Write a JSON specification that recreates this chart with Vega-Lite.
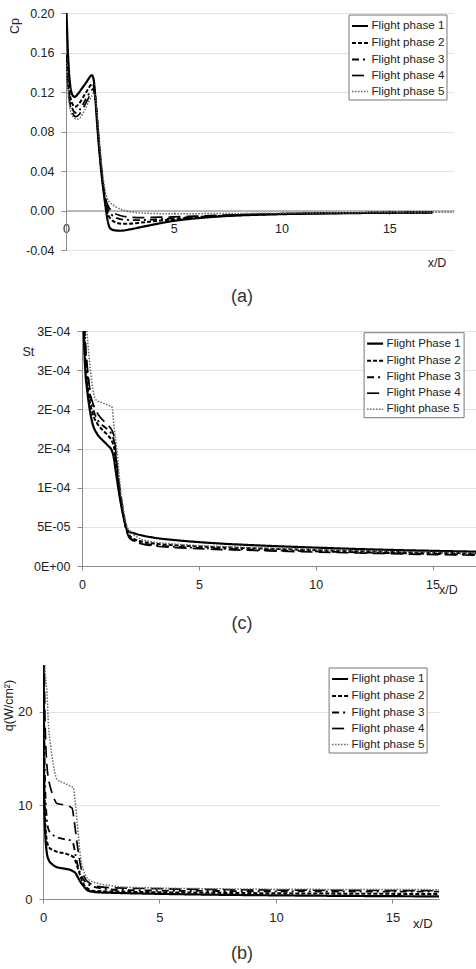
{
  "$schema": "https://vega.github.io/schema/vega-lite/v6.json",
  "background": "white",
  "padding": {"left": 0, "right": 0, "top": 7, "bottom": 0},
  "config": {
    "font": "Liberation Sans",
    "view": {"stroke": null},
    "axis": {
      "labelFont": "Liberation Sans", "labelFontSize": 12.5, "labelColor": "#222",
      "titleFont": "Liberation Sans", "titleFontSize": 12.5, "titleFontWeight": "normal", "titleColor": "#222",
      "domainColor": "#8c8c8c", "tickColor": "#8c8c8c", "tickSize": 5, "gridColor": "#e2e2e2",
      "labelPadding": 7, "labelOverlap": false, "labelFlush": false
    },
    "axisX": {"grid": false, "labelPadding": 8, "tickSize": 4},
    "axisY": {"grid": true},
    "legend": {
      "orient": "none", "title": null, "strokeColor": "#777", "fillColor": "white", "padding": 2,
      "symbolType": "stroke", "symbolSize": 256, "rowPadding": 1, "labelFont": "Liberation Sans",
      "labelFontSize": 11.6, "labelColor": "#222", "labelOffset": 2
    },
    "title": {"font": "Liberation Sans", "fontSize": 18, "fontWeight": "normal", "color": "#333"}
  },
  "spacing": 0,
  "resolve": {
    "scale": {"color": "independent", "strokeDash": "independent", "strokeWidth": "independent"},
    "legend": {"color": "independent", "strokeDash": "independent", "strokeWidth": "independent"}
  },
  "vconcat": [
    {
      "hconcat": [
        {"width": 66, "height": 312, "data": {"values": []}, "mark": "point"},
        {
          "width": 388, "height": 237,
          "title": {"text": "(a)", "orient": "bottom", "frame": "group", "anchor": "middle", "offset": 19, "dx": -18},
          "data": {"values": [
            {"s":"Flight phase 1","x":0,"v":0.215},{"s":"Flight phase 1","x":0.04,"v":0.19},{"s":"Flight phase 1","x":0.08,"v":0.165},{"s":"Flight phase 1","x":0.14,"v":0.14},{"s":"Flight phase 1","x":0.2,"v":0.126},{"s":"Flight phase 1","x":0.3,"v":0.117},{"s":"Flight phase 1","x":0.4,"v":0.115},{"s":"Flight phase 1","x":0.55,"v":0.118},{"s":"Flight phase 1","x":0.75,"v":0.124},{"s":"Flight phase 1","x":0.95,"v":0.13},{"s":"Flight phase 1","x":1.1,"v":0.135},{"s":"Flight phase 1","x":1.2,"v":0.137},{"s":"Flight phase 1","x":1.28,"v":0.133},{"s":"Flight phase 1","x":1.35,"v":0.118},{"s":"Flight phase 1","x":1.42,"v":0.095},{"s":"Flight phase 1","x":1.52,"v":0.067},{"s":"Flight phase 1","x":1.63,"v":0.041},{"s":"Flight phase 1","x":1.75,"v":0.018},{"s":"Flight phase 1","x":1.86,"v":0.0},{"s":"Flight phase 1","x":1.95,"v":-0.012},{"s":"Flight phase 1","x":2.05,"v":-0.018},{"s":"Flight phase 1","x":2.2,"v":-0.0198},{"s":"Flight phase 1","x":2.5,"v":-0.0205},{"s":"Flight phase 1","x":3,"v":-0.019},{"s":"Flight phase 1","x":3.5,"v":-0.0167},{"s":"Flight phase 1","x":4,"v":-0.0145},{"s":"Flight phase 1","x":5,"v":-0.0105},{"s":"Flight phase 1","x":6,"v":-0.008},{"s":"Flight phase 1","x":7,"v":-0.0062},{"s":"Flight phase 1","x":8,"v":-0.005},{"s":"Flight phase 1","x":9,"v":-0.0043},{"s":"Flight phase 1","x":10,"v":-0.0037},{"s":"Flight phase 1","x":12,"v":-0.003},{"s":"Flight phase 1","x":14,"v":-0.0025},{"s":"Flight phase 1","x":16,"v":-0.0022},{"s":"Flight phase 1","x":17,"v":-0.002},
            {"s":"Flight phase 2","x":0,"v":0.158},{"s":"Flight phase 2","x":0.05,"v":0.145},{"s":"Flight phase 2","x":0.1,"v":0.132},{"s":"Flight phase 2","x":0.2,"v":0.115},{"s":"Flight phase 2","x":0.3,"v":0.108},{"s":"Flight phase 2","x":0.42,"v":0.105},{"s":"Flight phase 2","x":0.6,"v":0.108},{"s":"Flight phase 2","x":0.8,"v":0.115},{"s":"Flight phase 2","x":1.0,"v":0.122},{"s":"Flight phase 2","x":1.15,"v":0.127},{"s":"Flight phase 2","x":1.25,"v":0.128},{"s":"Flight phase 2","x":1.32,"v":0.122},{"s":"Flight phase 2","x":1.4,"v":0.105},{"s":"Flight phase 2","x":1.5,"v":0.075},{"s":"Flight phase 2","x":1.62,"v":0.045},{"s":"Flight phase 2","x":1.75,"v":0.02},{"s":"Flight phase 2","x":1.85,"v":0.005},{"s":"Flight phase 2","x":1.95,"v":-0.004},{"s":"Flight phase 2","x":2.1,"v":-0.009},{"s":"Flight phase 2","x":2.3,"v":-0.012},{"s":"Flight phase 2","x":2.6,"v":-0.0135},{"s":"Flight phase 2","x":3,"v":-0.0133},{"s":"Flight phase 2","x":3.5,"v":-0.0122},{"s":"Flight phase 2","x":4,"v":-0.011},{"s":"Flight phase 2","x":5,"v":-0.009},{"s":"Flight phase 2","x":6,"v":-0.0072},{"s":"Flight phase 2","x":7,"v":-0.0058},{"s":"Flight phase 2","x":8,"v":-0.0048},{"s":"Flight phase 2","x":10,"v":-0.0035},{"s":"Flight phase 2","x":12,"v":-0.0029},{"s":"Flight phase 2","x":14,"v":-0.0024},{"s":"Flight phase 2","x":17,"v":-0.002},
            {"s":"Flight phase 3","x":0,"v":0.155},{"s":"Flight phase 3","x":0.05,"v":0.14},{"s":"Flight phase 3","x":0.1,"v":0.127},{"s":"Flight phase 3","x":0.2,"v":0.11},{"s":"Flight phase 3","x":0.3,"v":0.103},{"s":"Flight phase 3","x":0.45,"v":0.099},{"s":"Flight phase 3","x":0.6,"v":0.101},{"s":"Flight phase 3","x":0.8,"v":0.108},{"s":"Flight phase 3","x":1.0,"v":0.116},{"s":"Flight phase 3","x":1.15,"v":0.121},{"s":"Flight phase 3","x":1.27,"v":0.123},{"s":"Flight phase 3","x":1.34,"v":0.117},{"s":"Flight phase 3","x":1.42,"v":0.1},{"s":"Flight phase 3","x":1.52,"v":0.072},{"s":"Flight phase 3","x":1.64,"v":0.043},{"s":"Flight phase 3","x":1.76,"v":0.02},{"s":"Flight phase 3","x":1.87,"v":0.007},{"s":"Flight phase 3","x":1.97,"v":0.0},{"s":"Flight phase 3","x":2.1,"v":-0.004},{"s":"Flight phase 3","x":2.4,"v":-0.008},{"s":"Flight phase 3","x":2.8,"v":-0.0095},{"s":"Flight phase 3","x":3.2,"v":-0.0098},{"s":"Flight phase 3","x":4,"v":-0.0092},{"s":"Flight phase 3","x":5,"v":-0.008},{"s":"Flight phase 3","x":6,"v":-0.0066},{"s":"Flight phase 3","x":7,"v":-0.0055},{"s":"Flight phase 3","x":8,"v":-0.0046},{"s":"Flight phase 3","x":10,"v":-0.0034},{"s":"Flight phase 3","x":12,"v":-0.0028},{"s":"Flight phase 3","x":14,"v":-0.0024},{"s":"Flight phase 3","x":17,"v":-0.002},
            {"s":"Flight phase 4","x":0,"v":0.153},{"s":"Flight phase 4","x":0.05,"v":0.137},{"s":"Flight phase 4","x":0.1,"v":0.123},{"s":"Flight phase 4","x":0.2,"v":0.106},{"s":"Flight phase 4","x":0.3,"v":0.099},{"s":"Flight phase 4","x":0.45,"v":0.095},{"s":"Flight phase 4","x":0.6,"v":0.097},{"s":"Flight phase 4","x":0.8,"v":0.104},{"s":"Flight phase 4","x":1.0,"v":0.112},{"s":"Flight phase 4","x":1.15,"v":0.118},{"s":"Flight phase 4","x":1.28,"v":0.12},{"s":"Flight phase 4","x":1.35,"v":0.115},{"s":"Flight phase 4","x":1.43,"v":0.098},{"s":"Flight phase 4","x":1.53,"v":0.07},{"s":"Flight phase 4","x":1.65,"v":0.042},{"s":"Flight phase 4","x":1.77,"v":0.02},{"s":"Flight phase 4","x":1.88,"v":0.009},{"s":"Flight phase 4","x":2.0,"v":0.003},{"s":"Flight phase 4","x":2.2,"v":-0.002},{"s":"Flight phase 4","x":2.5,"v":-0.005},{"s":"Flight phase 4","x":3,"v":-0.0068},{"s":"Flight phase 4","x":3.5,"v":-0.0072},{"s":"Flight phase 4","x":4,"v":-0.007},{"s":"Flight phase 4","x":5,"v":-0.0065},{"s":"Flight phase 4","x":6,"v":-0.0057},{"s":"Flight phase 4","x":7,"v":-0.0049},{"s":"Flight phase 4","x":8,"v":-0.0042},{"s":"Flight phase 4","x":10,"v":-0.0032},{"s":"Flight phase 4","x":12,"v":-0.0027},{"s":"Flight phase 4","x":14,"v":-0.0023},{"s":"Flight phase 4","x":17,"v":-0.002},
            {"s":"Flight phase 5","x":0,"v":0.15},{"s":"Flight phase 5","x":0.05,"v":0.133},{"s":"Flight phase 5","x":0.1,"v":0.118},{"s":"Flight phase 5","x":0.2,"v":0.102},{"s":"Flight phase 5","x":0.3,"v":0.096},{"s":"Flight phase 5","x":0.5,"v":0.0925},{"s":"Flight phase 5","x":0.65,"v":0.094},{"s":"Flight phase 5","x":0.85,"v":0.101},{"s":"Flight phase 5","x":1.05,"v":0.11},{"s":"Flight phase 5","x":1.2,"v":0.116},{"s":"Flight phase 5","x":1.3,"v":0.119},{"s":"Flight phase 5","x":1.37,"v":0.114},{"s":"Flight phase 5","x":1.45,"v":0.097},{"s":"Flight phase 5","x":1.55,"v":0.07},{"s":"Flight phase 5","x":1.67,"v":0.043},{"s":"Flight phase 5","x":1.8,"v":0.022},{"s":"Flight phase 5","x":1.92,"v":0.012},{"s":"Flight phase 5","x":2.05,"v":0.008},{"s":"Flight phase 5","x":2.3,"v":0.004},{"s":"Flight phase 5","x":2.7,"v":0.0},{"s":"Flight phase 5","x":3.2,"v":-0.002},{"s":"Flight phase 5","x":4,"v":-0.003},{"s":"Flight phase 5","x":5,"v":-0.0033},{"s":"Flight phase 5","x":6,"v":-0.0032},{"s":"Flight phase 5","x":8,"v":-0.003},{"s":"Flight phase 5","x":10,"v":-0.0027},{"s":"Flight phase 5","x":12,"v":-0.0024},{"s":"Flight phase 5","x":14,"v":-0.0021},{"s":"Flight phase 5","x":16,"v":-0.0019},{"s":"Flight phase 5","x":18,"v":-0.0018}
          ]},
          "mark": {"type": "line", "clip": true, "interpolate": "monotone"},
          "encoding": {
            "x": {"field": "x", "type": "quantitative", "scale": {"domain": [0, 18], "nice": false, "zero": false},
                  "axis": {"values": [0, 5, 10, 15], "title": "x/D", "offset": -39.5, "titleX": 370.5, "titleY": 52, "titleAlign": "center", "titleBaseline": "middle", "domainColor": "#a6a6a6", "domainWidth": 1.5}},
            "y": {"field": "v", "type": "quantitative", "scale": {"domain": [-0.04, 0.2], "nice": false, "zero": false},
                  "axis": {"values": [-0.04, 0, 0.04, 0.08, 0.12, 0.16, 0.2], "labelExpr": "(datum.value < 0 ? '-' : '') + format(abs(datum.value), '.2f')", "title": "Cp", "titleX": -51.5, "titleY": 12.5, "titleAngle": 270, "titleAlign": "center", "titleBaseline": "middle"}},
            "color": {"field": "s", "type": "ordinal", "scale": {"domain": ["Flight phase 1","Flight phase 2","Flight phase 3","Flight phase 4","Flight phase 5"], "range": ["#000000","#000000","#000000","#000000","#666666"]}, "legend": {"legendX": 348.5, "legendY": 1.5}},
            "strokeDash": {"field": "s", "type": "ordinal", "scale": {"domain": ["Flight phase 1","Flight phase 2","Flight phase 3","Flight phase 4","Flight phase 5"], "range": [[1,0],[4,2],[7,4,2,4],[12,6],[1.5,1.5]]}, "legend": {"legendX": 348.5, "legendY": 1.5}},
            "strokeWidth": {"field": "s", "type": "ordinal", "scale": {"domain": ["Flight phase 1","Flight phase 2","Flight phase 3","Flight phase 4","Flight phase 5"], "range": [2.2, 1.5, 1.5, 2, 1.2]}, "legend": {"legendX": 348.5, "legendY": 1.5}}
          }
        }
      ],
      "spacing": 0,
      "bounds": "flush"
    },
    {
      "hconcat": [
        {"width": 82, "height": 334, "data": {"values": []}, "mark": "point"},
        {
          "width": 394, "height": 235,
          "title": {"text": "(c)", "orient": "bottom", "frame": "group", "anchor": "middle", "offset": 19, "dx": -37},
          "data": {"values": [
            {"s":"Flight Phase 1","x":0.03,"v":3.6e-4},{"s":"Flight Phase 1","x":0.05,"v":3.3e-4},{"s":"Flight Phase 1","x":0.1,"v":2.75e-4},{"s":"Flight Phase 1","x":0.14,"v":2.5e-4},{"s":"Flight Phase 1","x":0.22,"v":2.25e-4},{"s":"Flight Phase 1","x":0.33,"v":2.0e-4},{"s":"Flight Phase 1","x":0.45,"v":1.82e-4},{"s":"Flight Phase 1","x":0.64,"v":1.69e-4},{"s":"Flight Phase 1","x":0.9,"v":1.6e-4},{"s":"Flight Phase 1","x":1.1,"v":1.54e-4},{"s":"Flight Phase 1","x":1.28,"v":1.47e-4},{"s":"Flight Phase 1","x":1.35,"v":1.4e-4},{"s":"Flight Phase 1","x":1.45,"v":1.2e-4},{"s":"Flight Phase 1","x":1.55,"v":1.0e-4},{"s":"Flight Phase 1","x":1.65,"v":8.2e-5},{"s":"Flight Phase 1","x":1.78,"v":6.2e-5},{"s":"Flight Phase 1","x":1.9,"v":4.8e-5},{"s":"Flight Phase 1","x":2.0,"v":4.4e-5},{"s":"Flight Phase 1","x":2.2,"v":4.2e-5},{"s":"Flight Phase 1","x":2.5,"v":3.95e-5},{"s":"Flight Phase 1","x":3,"v":3.65e-5},{"s":"Flight Phase 1","x":4,"v":3.3e-5},{"s":"Flight Phase 1","x":5,"v":3.05e-5},{"s":"Flight Phase 1","x":6,"v":2.85e-5},{"s":"Flight Phase 1","x":7,"v":2.7e-5},{"s":"Flight Phase 1","x":8,"v":2.57e-5},{"s":"Flight Phase 1","x":10,"v":2.35e-5},{"s":"Flight Phase 1","x":12,"v":2.15e-5},{"s":"Flight Phase 1","x":14,"v":2.0e-5},{"s":"Flight Phase 1","x":16,"v":1.88e-5},{"s":"Flight Phase 1","x":17.5,"v":1.8e-5},
            {"s":"Flight Phase 2","x":0.05,"v":3.5e-4},{"s":"Flight Phase 2","x":0.1,"v":2.9e-4},{"s":"Flight Phase 2","x":0.15,"v":2.6e-4},{"s":"Flight Phase 2","x":0.22,"v":2.35e-4},{"s":"Flight Phase 2","x":0.33,"v":2.1e-4},{"s":"Flight Phase 2","x":0.45,"v":1.95e-4},{"s":"Flight Phase 2","x":0.65,"v":1.82e-4},{"s":"Flight Phase 2","x":0.9,"v":1.73e-4},{"s":"Flight Phase 2","x":1.1,"v":1.67e-4},{"s":"Flight Phase 2","x":1.3,"v":1.58e-4},{"s":"Flight Phase 2","x":1.38,"v":1.5e-4},{"s":"Flight Phase 2","x":1.47,"v":1.25e-4},{"s":"Flight Phase 2","x":1.57,"v":1.0e-4},{"s":"Flight Phase 2","x":1.68,"v":8.0e-5},{"s":"Flight Phase 2","x":1.8,"v":6.0e-5},{"s":"Flight Phase 2","x":1.92,"v":4.5e-5},{"s":"Flight Phase 2","x":2.0,"v":4.0e-5},{"s":"Flight Phase 2","x":2.2,"v":3.5e-5},{"s":"Flight Phase 2","x":2.6,"v":3.1e-5},{"s":"Flight Phase 2","x":3,"v":2.9e-5},{"s":"Flight Phase 2","x":4,"v":2.65e-5},{"s":"Flight Phase 2","x":5,"v":2.5e-5},{"s":"Flight Phase 2","x":6,"v":2.38e-5},{"s":"Flight Phase 2","x":8,"v":2.2e-5},{"s":"Flight Phase 2","x":10,"v":2.03e-5},{"s":"Flight Phase 2","x":12,"v":1.88e-5},{"s":"Flight Phase 2","x":14,"v":1.75e-5},{"s":"Flight Phase 2","x":16,"v":1.65e-5},{"s":"Flight Phase 2","x":17.5,"v":1.6e-5},
            {"s":"Flight Phase 3","x":0.06,"v":3.5e-4},{"s":"Flight Phase 3","x":0.12,"v":2.95e-4},{"s":"Flight Phase 3","x":0.18,"v":2.65e-4},{"s":"Flight Phase 3","x":0.26,"v":2.4e-4},{"s":"Flight Phase 3","x":0.36,"v":2.15e-4},{"s":"Flight Phase 3","x":0.5,"v":1.98e-4},{"s":"Flight Phase 3","x":0.7,"v":1.85e-4},{"s":"Flight Phase 3","x":0.9,"v":1.79e-4},{"s":"Flight Phase 3","x":1.1,"v":1.74e-4},{"s":"Flight Phase 3","x":1.3,"v":1.66e-4},{"s":"Flight Phase 3","x":1.38,"v":1.58e-4},{"s":"Flight Phase 3","x":1.47,"v":1.32e-4},{"s":"Flight Phase 3","x":1.57,"v":1.05e-4},{"s":"Flight Phase 3","x":1.68,"v":8.2e-5},{"s":"Flight Phase 3","x":1.8,"v":6.0e-5},{"s":"Flight Phase 3","x":1.92,"v":4.4e-5},{"s":"Flight Phase 3","x":2.0,"v":3.8e-5},{"s":"Flight Phase 3","x":2.2,"v":3.3e-5},{"s":"Flight Phase 3","x":2.6,"v":2.9e-5},{"s":"Flight Phase 3","x":3,"v":2.7e-5},{"s":"Flight Phase 3","x":4,"v":2.45e-5},{"s":"Flight Phase 3","x":5,"v":2.3e-5},{"s":"Flight Phase 3","x":6,"v":2.2e-5},{"s":"Flight Phase 3","x":8,"v":2.02e-5},{"s":"Flight Phase 3","x":10,"v":1.87e-5},{"s":"Flight Phase 3","x":12,"v":1.73e-5},{"s":"Flight Phase 3","x":14,"v":1.6e-5},{"s":"Flight Phase 3","x":16,"v":1.5e-5},{"s":"Flight Phase 3","x":17.5,"v":1.45e-5},
            {"s":"Flight Phase 4","x":0.06,"v":3.55e-4},{"s":"Flight Phase 4","x":0.12,"v":3.0e-4},{"s":"Flight Phase 4","x":0.18,"v":2.7e-4},{"s":"Flight Phase 4","x":0.26,"v":2.45e-4},{"s":"Flight Phase 4","x":0.36,"v":2.2e-4},{"s":"Flight Phase 4","x":0.5,"v":2.05e-4},{"s":"Flight Phase 4","x":0.7,"v":1.93e-4},{"s":"Flight Phase 4","x":0.9,"v":1.86e-4},{"s":"Flight Phase 4","x":1.1,"v":1.8e-4},{"s":"Flight Phase 4","x":1.3,"v":1.72e-4},{"s":"Flight Phase 4","x":1.39,"v":1.62e-4},{"s":"Flight Phase 4","x":1.48,"v":1.35e-4},{"s":"Flight Phase 4","x":1.58,"v":1.08e-4},{"s":"Flight Phase 4","x":1.7,"v":8.3e-5},{"s":"Flight Phase 4","x":1.82,"v":6.0e-5},{"s":"Flight Phase 4","x":1.93,"v":4.3e-5},{"s":"Flight Phase 4","x":2.0,"v":3.7e-5},{"s":"Flight Phase 4","x":2.2,"v":3.2e-5},{"s":"Flight Phase 4","x":2.6,"v":2.8e-5},{"s":"Flight Phase 4","x":3,"v":2.6e-5},{"s":"Flight Phase 4","x":4,"v":2.35e-5},{"s":"Flight Phase 4","x":5,"v":2.2e-5},{"s":"Flight Phase 4","x":6,"v":2.1e-5},{"s":"Flight Phase 4","x":8,"v":1.93e-5},{"s":"Flight Phase 4","x":10,"v":1.78e-5},{"s":"Flight Phase 4","x":12,"v":1.65e-5},{"s":"Flight Phase 4","x":14,"v":1.52e-5},{"s":"Flight Phase 4","x":16,"v":1.42e-5},{"s":"Flight Phase 4","x":17.5,"v":1.37e-5},
            {"s":"Flight phase 5","x":0.1,"v":3.5e-4},{"s":"Flight phase 5","x":0.21,"v":3.0e-4},{"s":"Flight phase 5","x":0.36,"v":2.5e-4},{"s":"Flight phase 5","x":0.5,"v":2.2e-4},{"s":"Flight phase 5","x":0.6,"v":2.12e-4},{"s":"Flight phase 5","x":0.9,"v":2.08e-4},{"s":"Flight phase 5","x":1.15,"v":2.05e-4},{"s":"Flight phase 5","x":1.28,"v":2.03e-4},{"s":"Flight phase 5","x":1.38,"v":1.75e-4},{"s":"Flight phase 5","x":1.5,"v":1.47e-4},{"s":"Flight phase 5","x":1.64,"v":1.0e-4},{"s":"Flight phase 5","x":1.8,"v":6.8e-5},{"s":"Flight phase 5","x":1.93,"v":5.0e-5},{"s":"Flight phase 5","x":2.07,"v":4.4e-5},{"s":"Flight phase 5","x":2.4,"v":3.6e-5},{"s":"Flight phase 5","x":3,"v":3.1e-5},{"s":"Flight phase 5","x":4,"v":2.8e-5},{"s":"Flight phase 5","x":5,"v":2.6e-5},{"s":"Flight phase 5","x":6,"v":2.48e-5},{"s":"Flight phase 5","x":8,"v":2.28e-5},{"s":"Flight phase 5","x":10,"v":2.1e-5},{"s":"Flight phase 5","x":12,"v":1.95e-5},{"s":"Flight phase 5","x":14,"v":1.82e-5},{"s":"Flight phase 5","x":16,"v":1.72e-5},{"s":"Flight phase 5","x":17.5,"v":1.67e-5}
          ]},
          "mark": {"type": "line", "clip": true, "interpolate": "monotone"},
          "encoding": {
            "x": {"field": "x", "type": "quantitative", "scale": {"domain": [0, 16.86], "nice": false, "zero": false},
                  "axis": {"values": [0, 5, 10, 15], "title": "x/D", "titleX": 365.8, "titleY": 23.3, "titleAlign": "center", "titleBaseline": "middle"}},
            "y": {"field": "v", "type": "quantitative", "scale": {"domain": [0, 0.0003], "nice": false, "zero": false},
                  "axis": {"values": [0, 0.00005, 0.0001, 0.00015, 0.0002, 0.00025, 0.0003], "labelExpr": "['0E+00','5E-05','1E-04','2E-04','2E-04','3E-04','3E-04'][round(datum.value/0.00005)]", "title": "St", "titleX": -54.2, "titleY": 20.5, "titleAngle": 0, "titleAlign": "center", "titleBaseline": "middle"}},
            "color": {"field": "s", "type": "ordinal", "scale": {"domain": ["Flight Phase 1","Flight Phase 2","Flight Phase 3","Flight Phase 4","Flight phase 5"], "range": ["#000000","#000000","#000000","#000000","#666666"]}, "legend": {"legendX": 363.6, "legendY": 1.2}},
            "strokeDash": {"field": "s", "type": "ordinal", "scale": {"domain": ["Flight Phase 1","Flight Phase 2","Flight Phase 3","Flight Phase 4","Flight phase 5"], "range": [[1,0],[4,2],[7,4,2,4],[12,6],[1.5,1.5]]}, "legend": {"legendX": 363.6, "legendY": 1.2}},
            "strokeWidth": {"field": "s", "type": "ordinal", "scale": {"domain": ["Flight Phase 1","Flight Phase 2","Flight Phase 3","Flight Phase 4","Flight phase 5"], "range": [2.2, 1.5, 1.5, 2, 1.2]}, "legend": {"legendX": 363.6, "legendY": 1.2}}
          }
        }
      ],
      "spacing": 0,
      "bounds": "flush"
    },
    {
      "hconcat": [
        {"width": 43, "height": 300, "data": {"values": []}, "mark": "point"},
        {
          "width": 396, "height": 234,
          "title": {"text": "(b)", "orient": "bottom", "frame": "group", "anchor": "middle", "offset": 14.5, "dx": 1},
          "data": {"values": [
            {"s":"Flight phase 1","x":0.02,"v":26},{"s":"Flight phase 1","x":0.03,"v":12.7},{"s":"Flight phase 1","x":0.06,"v":9.2},{"s":"Flight phase 1","x":0.1,"v":6.7},{"s":"Flight phase 1","x":0.16,"v":5.0},{"s":"Flight phase 1","x":0.24,"v":4.2},{"s":"Flight phase 1","x":0.4,"v":3.7},{"s":"Flight phase 1","x":0.6,"v":3.4},{"s":"Flight phase 1","x":0.9,"v":3.25},{"s":"Flight phase 1","x":1.18,"v":3.1},{"s":"Flight phase 1","x":1.3,"v":2.95},{"s":"Flight phase 1","x":1.4,"v":2.75},{"s":"Flight phase 1","x":1.5,"v":2.3},{"s":"Flight phase 1","x":1.6,"v":1.86},{"s":"Flight phase 1","x":1.75,"v":1.35},{"s":"Flight phase 1","x":1.97,"v":0.86},{"s":"Flight phase 1","x":2.33,"v":0.72},{"s":"Flight phase 1","x":3,"v":0.66},{"s":"Flight phase 1","x":5,"v":0.55},{"s":"Flight phase 1","x":7,"v":0.47},{"s":"Flight phase 1","x":10,"v":0.39},{"s":"Flight phase 1","x":13,"v":0.33},{"s":"Flight phase 1","x":17,"v":0.28},
            {"s":"Flight phase 2","x":0.03,"v":26},{"s":"Flight phase 2","x":0.05,"v":14},{"s":"Flight phase 2","x":0.08,"v":9.5},{"s":"Flight phase 2","x":0.12,"v":7.2},{"s":"Flight phase 2","x":0.17,"v":6.2},{"s":"Flight phase 2","x":0.24,"v":5.6},{"s":"Flight phase 2","x":0.4,"v":5.25},{"s":"Flight phase 2","x":0.6,"v":5.05},{"s":"Flight phase 2","x":1.03,"v":4.8},{"s":"Flight phase 2","x":1.32,"v":4.45},{"s":"Flight phase 2","x":1.4,"v":4.0},{"s":"Flight phase 2","x":1.47,"v":3.5},{"s":"Flight phase 2","x":1.61,"v":2.4},{"s":"Flight phase 2","x":1.72,"v":1.7},{"s":"Flight phase 2","x":1.83,"v":1.3},{"s":"Flight phase 2","x":2.0,"v":1.0},{"s":"Flight phase 2","x":2.12,"v":0.88},{"s":"Flight phase 2","x":2.6,"v":0.82},{"s":"Flight phase 2","x":3,"v":0.8},{"s":"Flight phase 2","x":5,"v":0.72},{"s":"Flight phase 2","x":7,"v":0.67},{"s":"Flight phase 2","x":10,"v":0.61},{"s":"Flight phase 2","x":13,"v":0.57},{"s":"Flight phase 2","x":17,"v":0.53},
            {"s":"Flight phase 3","x":0.04,"v":26},{"s":"Flight phase 3","x":0.06,"v":17},{"s":"Flight phase 3","x":0.1,"v":11.5},{"s":"Flight phase 3","x":0.15,"v":9},{"s":"Flight phase 3","x":0.24,"v":7.4},{"s":"Flight phase 3","x":0.4,"v":6.9},{"s":"Flight phase 3","x":0.6,"v":6.6},{"s":"Flight phase 3","x":0.9,"v":6.4},{"s":"Flight phase 3","x":1.25,"v":6.2},{"s":"Flight phase 3","x":1.33,"v":5.6},{"s":"Flight phase 3","x":1.4,"v":4.6},{"s":"Flight phase 3","x":1.55,"v":3.1},{"s":"Flight phase 3","x":1.76,"v":2.0},{"s":"Flight phase 3","x":1.95,"v":1.55},{"s":"Flight phase 3","x":2.19,"v":1.3},{"s":"Flight phase 3","x":2.6,"v":1.1},{"s":"Flight phase 3","x":3.2,"v":0.98},{"s":"Flight phase 3","x":5,"v":0.9},{"s":"Flight phase 3","x":7,"v":0.86},{"s":"Flight phase 3","x":10,"v":0.82},{"s":"Flight phase 3","x":13,"v":0.8},{"s":"Flight phase 3","x":17,"v":0.78},
            {"s":"Flight phase 4","x":0.05,"v":26},{"s":"Flight phase 4","x":0.08,"v":20},{"s":"Flight phase 4","x":0.12,"v":16.5},{"s":"Flight phase 4","x":0.17,"v":14.2},{"s":"Flight phase 4","x":0.24,"v":12.8},{"s":"Flight phase 4","x":0.31,"v":12.0},{"s":"Flight phase 4","x":0.45,"v":10.9},{"s":"Flight phase 4","x":0.6,"v":10.2},{"s":"Flight phase 4","x":1.0,"v":10.0},{"s":"Flight phase 4","x":1.25,"v":9.7},{"s":"Flight phase 4","x":1.33,"v":8.5},{"s":"Flight phase 4","x":1.4,"v":7.2},{"s":"Flight phase 4","x":1.47,"v":5.8},{"s":"Flight phase 4","x":1.55,"v":4.5},{"s":"Flight phase 4","x":1.61,"v":3.6},{"s":"Flight phase 4","x":1.7,"v":2.8},{"s":"Flight phase 4","x":1.83,"v":2.1},{"s":"Flight phase 4","x":2.0,"v":1.7},{"s":"Flight phase 4","x":2.33,"v":1.35},{"s":"Flight phase 4","x":3,"v":1.2},{"s":"Flight phase 4","x":5,"v":1.1},{"s":"Flight phase 4","x":7,"v":1.02},{"s":"Flight phase 4","x":10,"v":0.96},{"s":"Flight phase 4","x":13,"v":0.92},{"s":"Flight phase 4","x":17,"v":0.88},
            {"s":"Flight phase 5","x":0.06,"v":26},{"s":"Flight phase 5","x":0.1,"v":24},{"s":"Flight phase 5","x":0.17,"v":22},{"s":"Flight phase 5","x":0.24,"v":18.4},{"s":"Flight phase 5","x":0.32,"v":16.5},{"s":"Flight phase 5","x":0.39,"v":15.2},{"s":"Flight phase 5","x":0.5,"v":13.6},{"s":"Flight phase 5","x":0.6,"v":12.8},{"s":"Flight phase 5","x":0.9,"v":12.4},{"s":"Flight phase 5","x":1.15,"v":12.1},{"s":"Flight phase 5","x":1.3,"v":11.9},{"s":"Flight phase 5","x":1.38,"v":10.5},{"s":"Flight phase 5","x":1.47,"v":8.1},{"s":"Flight phase 5","x":1.54,"v":6.2},{"s":"Flight phase 5","x":1.61,"v":4.5},{"s":"Flight phase 5","x":1.72,"v":3.2},{"s":"Flight phase 5","x":1.83,"v":2.5},{"s":"Flight phase 5","x":2.0,"v":2.0},{"s":"Flight phase 5","x":2.33,"v":1.7},{"s":"Flight phase 5","x":3,"v":1.4},{"s":"Flight phase 5","x":3.48,"v":1.27},{"s":"Flight phase 5","x":5,"v":1.17},{"s":"Flight phase 5","x":7,"v":1.1},{"s":"Flight phase 5","x":10,"v":1.05},{"s":"Flight phase 5","x":13,"v":1.02},{"s":"Flight phase 5","x":17,"v":1.0}
          ]},
          "mark": {"type": "line", "clip": true, "interpolate": "monotone"},
          "encoding": {
            "x": {"field": "x", "type": "quantitative", "scale": {"domain": [0, 17], "nice": false, "zero": false},
                  "axis": {"values": [0, 5, 10, 15], "title": "x/D", "labelFontSize": 13, "titleFontSize": 13, "titleX": 379.3, "titleY": 24, "titleAlign": "center", "titleBaseline": "middle"}},
            "y": {"field": "v", "type": "quantitative", "scale": {"domain": [0, 25], "nice": false, "zero": false},
                  "axis": {"values": [0, 10, 20], "title": "q(W/cm²)", "labelFontSize": 13, "tickSize": 4, "titleX": -34.4, "titleY": 40, "titleAngle": 270, "titleAlign": "center", "titleBaseline": "middle"}},
            "color": {"field": "s", "type": "ordinal", "scale": {"domain": ["Flight phase 1","Flight phase 2","Flight phase 3","Flight phase 4","Flight phase 5"], "range": ["#000000","#000000","#000000","#000000","#666666"]}, "legend": {"legendX": 328.6, "legendY": 2.5}},
            "strokeDash": {"field": "s", "type": "ordinal", "scale": {"domain": ["Flight phase 1","Flight phase 2","Flight phase 3","Flight phase 4","Flight phase 5"], "range": [[1,0],[4,2],[7,4,2,4],[12,6],[1.5,1.5]]}, "legend": {"legendX": 328.6, "legendY": 2.5}},
            "strokeWidth": {"field": "s", "type": "ordinal", "scale": {"domain": ["Flight phase 1","Flight phase 2","Flight phase 3","Flight phase 4","Flight phase 5"], "range": [2.2, 1.5, 1.5, 2, 1.2]}, "legend": {"legendX": 328.6, "legendY": 2.5}}
          }
        }
      ],
      "spacing": 0,
      "bounds": "flush"
    }
  ]
}
